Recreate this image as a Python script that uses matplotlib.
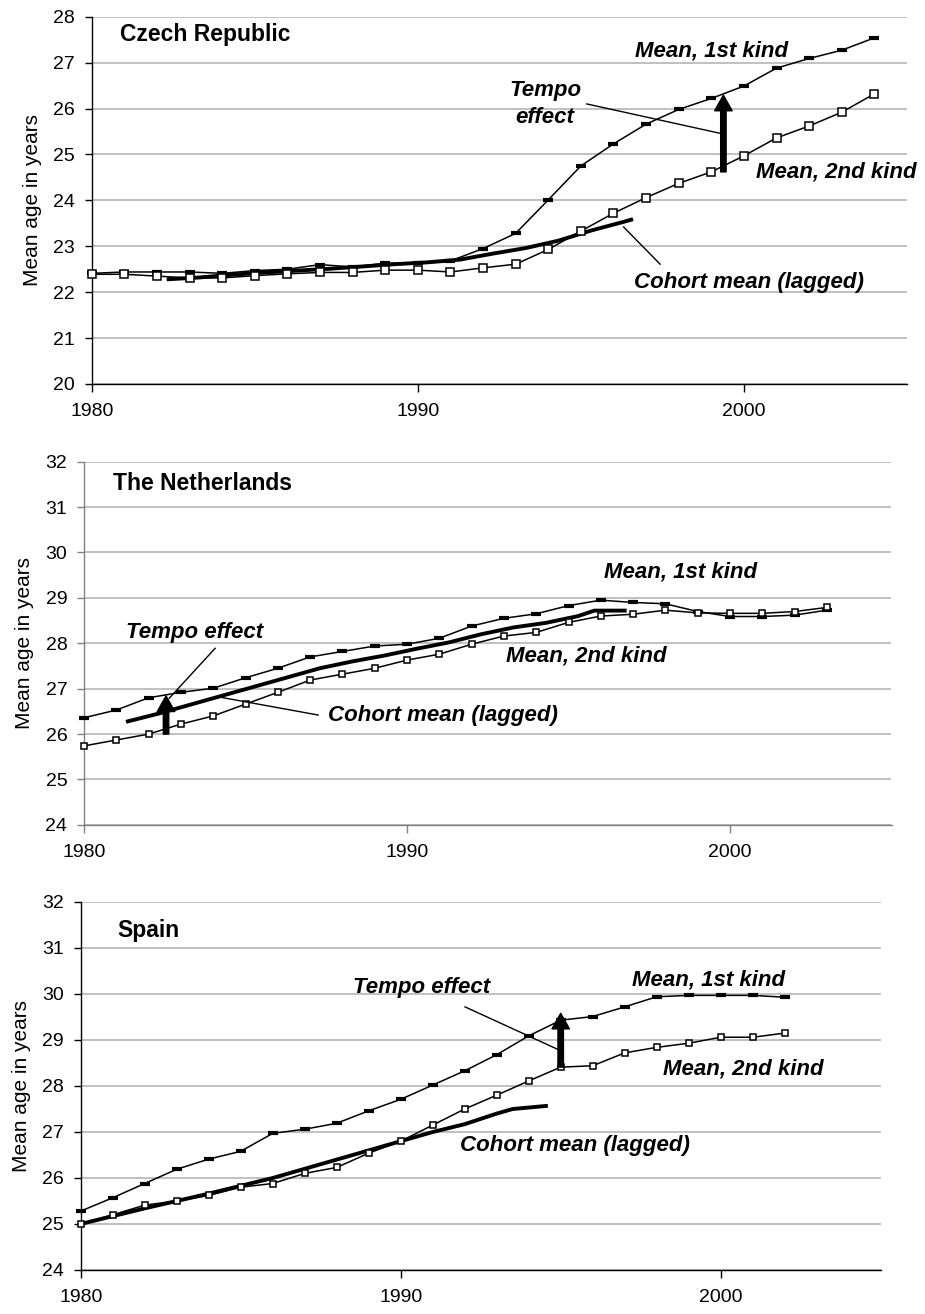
import matplotlib
matplotlib.use('Agg')
import numpy as np
import matplotlib.pyplot as plt

plt.rcParams['font.family'] = ['Liberation Sans', 'DejaVu Sans']

# --- data ---
cz_years = list(range(1980, 2005))
cz_mean1 = [22.41, 22.44, 22.44, 22.44, 22.41, 22.47, 22.50, 22.60, 22.55, 22.63,
            22.64, 22.68, 22.95, 23.28, 24.01, 24.75, 25.23, 25.66, 25.98, 26.22,
            26.49, 26.88, 27.09, 27.27, 27.54]
cz_mean2 = [22.39, 22.39, 22.35, 22.31, 22.31, 22.36, 22.40, 22.43, 22.43, 22.48,
            22.48, 22.44, 22.53, 22.61, 22.93, 23.33, 23.72, 24.06, 24.37, 24.62,
            24.97, 25.36, 25.62, 25.92, 26.32]
cz_cohort_x = [1982.3, 1983.3, 1984.3, 1985.3, 1986.3, 1987.3, 1988.3, 1989.3,
               1990.3, 1991.3, 1992.3, 1993.3, 1994.3, 1995.3, 1996.3, 1996.6]
cz_cohort = [22.28, 22.32, 22.38, 22.43, 22.47, 22.51, 22.56, 22.61,
             22.65, 22.71, 22.84, 22.96, 23.12, 23.34, 23.53, 23.59]

nl_years = list(range(1980, 2004))
nl_mean1 = [26.36, 26.53, 26.80, 26.92, 27.01, 27.24, 27.45, 27.70, 27.82, 27.94,
            27.98, 28.11, 28.38, 28.55, 28.65, 28.83, 28.95, 28.90, 28.87, 28.70,
            28.59, 28.59, 28.62, 28.73]
nl_mean2 = [25.74, 25.87, 26.00, 26.22, 26.40, 26.66, 26.92, 27.19, 27.32, 27.45,
            27.63, 27.76, 27.98, 28.16, 28.24, 28.46, 28.60, 28.64, 28.73, 28.67,
            28.66, 28.66, 28.70, 28.79]
nl_cohort_x = [1981.3, 1982.3, 1983.3, 1984.3, 1985.3, 1986.3, 1987.3, 1988.3,
               1989.3, 1990.3, 1991.3, 1992.3, 1993.3, 1994.3, 1995.3, 1995.8, 1996.8]
nl_cohort = [26.27, 26.45, 26.65, 26.85, 27.05, 27.25, 27.45, 27.60,
             27.73, 27.88, 28.02, 28.20, 28.35, 28.45, 28.60, 28.72, 28.72]

es_years = list(range(1980, 2003))
es_mean1 = [25.28, 25.57, 25.88, 26.19, 26.41, 26.58, 26.97, 27.06, 27.19, 27.46,
            27.71, 28.02, 28.33, 28.68, 29.09, 29.43, 29.51, 29.72, 29.94, 29.97,
            29.97, 29.97, 29.93]
es_mean2 = [25.01, 25.20, 25.41, 25.50, 25.62, 25.80, 25.88, 26.10, 26.23, 26.54,
            26.80, 27.15, 27.50, 27.80, 28.11, 28.41, 28.44, 28.72, 28.84, 28.93,
            29.06, 29.06, 29.15]
es_cohort_x = [1980, 1981, 1982, 1983, 1984, 1985, 1986, 1987, 1988, 1989,
               1990, 1991, 1992, 1993, 1993.5, 1994.6]
es_cohort = [25.00, 25.17, 25.34, 25.50, 25.66, 25.83, 26.00, 26.20, 26.40, 26.60,
             26.80, 27.00, 27.17, 27.40, 27.50, 27.57]

x_ticks = [1980, 1990, 2000]
ANN = dict(fontsize=16, fontweight='bold', fontstyle='italic')

W, H = 925, 1314
fig = plt.figure(figsize=(W / 100, H / 100), dpi=100)


def make_axes(left, right, top, bottom):
    return fig.add_axes([left / W, 1 - bottom / H, (right - left) / W, (bottom - top) / H])


def draw_panel(ax, years, mean1, mean2, coh_x, coh, ylim, sq_size, spine_col='black'):
    ax.plot(coh_x, coh, color='black', lw=2.8, zorder=3, clip_on=False,
            solid_capstyle='butt')
    ax.plot(years, mean1, color='black', lw=1.1, marker='_', ms=7, mew=3,
            zorder=4, clip_on=False)
    ax.plot(years, mean2, color='black', lw=1.1, marker='s', ms=sq_size, mew=1.1,
            mfc='white', mec='black', zorder=5, clip_on=False)
    ax.set_xlim(1980, 2005)
    ax.set_ylim(*ylim)
    ax.set_xticks(x_ticks)
    ax.set_yticks(np.arange(ylim[0], ylim[1] + 1, 1))
    ax.yaxis.grid(True, color='#c0c0c0', lw=1.4)
    ax.set_axisbelow(True)
    for s in ['top', 'right']:
        ax.spines[s].set_visible(False)
    for s in ['left', 'bottom']:
        ax.spines[s].set_color(spine_col)
        ax.spines[s].set_linewidth(1.0)
    ax.tick_params(axis='y', direction='out', length=5, width=1, pad=7,
                   labelsize=14, color=spine_col)
    ax.tick_params(axis='x', direction='out', length=6, width=1, pad=8,
                   labelsize=14, color=spine_col)
    ax.set_ylabel('Mean age in years', fontsize=15, labelpad=8)
    return ax


def arrow(ax, x, y0, y1):
    ax.annotate('', xy=(x, y1), xytext=(x, y0),
                arrowprops=dict(arrowstyle='simple,head_length=0.8,head_width=0.9,tail_width=0.28',
                                fc='black', ec='black', mutation_scale=14,
                                shrinkA=0, shrinkB=0), zorder=6)


def leader(ax, p0, p1):
    ax.plot([p0[0], p1[0]], [p0[1], p1[1]], color='black', lw=1.0, zorder=6)


# Czech Republic
ax1 = make_axes(91.7, 907, 16.7, 384)
draw_panel(ax1, cz_years, cz_mean1, cz_mean2, cz_cohort_x, cz_cohort, (20, 28), 5.5)
ax1.text(1980.87, 27.62, 'Czech Republic', fontsize=16.5, fontweight='bold', va='center')
ax1.text(1999.0, 27.25, 'Mean, 1st kind', ha='center', va='center', **ANN)
ax1.text(1993.9, 26.10, 'Tempo\neffect', ha='center', va='center', linespacing=1.4, **ANN)
leader(ax1, (1995.18, 26.10), (1999.27, 25.46))
arrow(ax1, 1999.37, 24.62, 26.29)
ax1.text(2002.83, 24.62, 'Mean, 2nd kind', ha='center', va='center', **ANN)
ax1.text(2000.15, 22.20, 'Cohort mean (lagged)', ha='center', va='center', **ANN)
leader(ax1, (1996.31, 23.42), (1997.43, 22.61))

# The Netherlands
ax2 = make_axes(84, 891.5, 461.7, 824.9)
draw_panel(ax2, nl_years, nl_mean1, nl_mean2, nl_cohort_x, nl_cohort, (24, 32), 4.2,
           spine_col='#808080')
ax2.text(1980.9, 31.53, 'The Netherlands', fontsize=16.5, fontweight='bold', va='center')
ax2.text(1983.41, 28.23, 'Tempo effect', ha='center', va='center', **ANN)
leader(ax2, (1984.06, 27.89), (1982.64, 26.79))
arrow(ax2, 1982.54, 26.00, 26.84)
ax2.text(1991.11, 26.40, 'Cohort mean (lagged)', ha='center', va='center', **ANN)
leader(ax2, (1984.16, 26.82), (1987.25, 26.42))
ax2.text(1998.48, 29.57, 'Mean, 1st kind', ha='center', va='center', **ANN)
ax2.text(1995.56, 27.72, 'Mean, 2nd kind', ha='center', va='center', **ANN)

# Spain
ax3 = make_axes(80.7, 880.7, 902, 1270)
draw_panel(ax3, es_years, es_mean1, es_mean2, es_cohort_x, es_cohort, (24, 32), 4.6)
ax3.text(1981.13, 31.39, 'Spain', fontsize=16.5, fontweight='bold', va='center')
ax3.text(1990.65, 30.15, 'Tempo effect', ha='center', va='center', **ANN)
leader(ax3, (1992.01, 29.72), (1994.96, 28.78))
arrow(ax3, 1995.0, 28.41, 29.58)
ax3.text(1999.62, 30.30, 'Mean, 1st kind', ha='center', va='center', **ANN)
ax3.text(2000.70, 28.37, 'Mean, 2nd kind', ha='center', va='center', **ANN)
ax3.text(1995.46, 26.70, 'Cohort mean (lagged)', ha='center', va='center', **ANN)

fig.savefig('out.png', dpi=100)
